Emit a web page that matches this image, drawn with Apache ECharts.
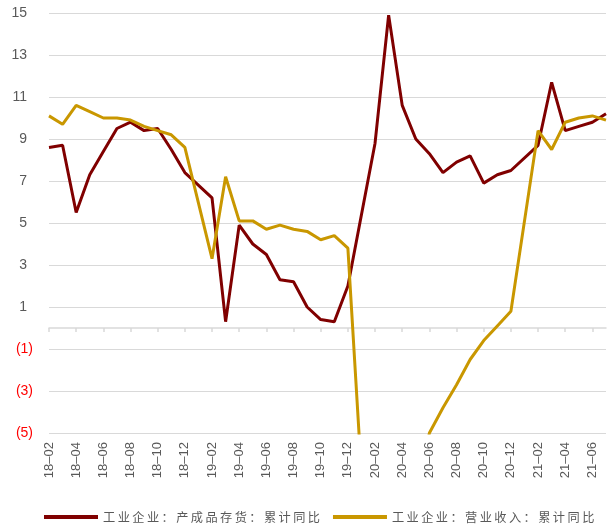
<!DOCTYPE html>
<html>
<head>
<meta charset="utf-8">
<script src="https://cdn.jsdelivr.net/npm/echarts@6/dist/echarts.min.js"></script>
<style>
  html, body { margin: 0; padding: 0; background: #fff; }
  #chart { width: 611px; height: 526px; }
</style>
</head>
<body>
<div id="chart"></div>
<script>
// 月份（1月数据缺失，用 null 表示）
const months = [
  "18–02", "18–03", "18–04", "18–05", "18–06", "18–07", "18–08", "18–09", "18–10", "18–11", "18–12",
  "19–01", "19–02", "19–03", "19–04", "19–05", "19–06", "19–07", "19–08", "19–09", "19–10", "19–11", "19–12",
  "20–01", "20–02", "20–03", "20–04", "20–05", "20–06", "20–07", "20–08", "20–09", "20–10", "20–11", "20–12",
  "21–01", "21–02", "21–03", "21–04", "21–05", "21–06", "21–07"
];
// 工业企业:产成品存货:累计同比
const inventory = [
  8.6, 8.7, 5.5, 7.3, 8.4, 9.5, 9.8, 9.4, 9.5, 8.5, 7.4,
  null, 6.2, 0.3, 4.9, 4.0, 3.5, 2.3, 2.2, 1.0, 0.4, 0.3, 2.0,
  null, 8.8, 14.9, 10.6, 9.0, 8.3, 7.4, 7.9, 8.2, 6.9, 7.3, 7.5,
  null, 8.7, 11.7, 9.4, 9.6, 9.8, 10.2
];
// 工业企业:营业收入:累计同比
const revenue = [
  10.1, 9.7, 10.6, 10.3, 10.0, 10.0, 9.9, 9.6, 9.4, 9.2, 8.6,
  null, 3.3, 7.2, 5.1, 5.1, 4.7, 4.9, 4.7, 4.6, 4.2, 4.4, 3.8,
  null, -17.7, -15.1, -12.3, -8.5, -5.0, -3.8, -2.7, -1.5, -0.6, 0.1, 0.8,
  null, 9.4, 8.5, 9.8, 10.0, 10.1, 9.9
];
const seriesNames = ["工业企业:产成品存货:累计同比", "工业企业:营业收入:累计同比"];

const grey = "#595959";
const gridGrey = "#d9d9d9";

let myChart = echarts.init(document.getElementById("chart"));
let option = {
  animation: false,
  grid: { left: 49, right: 5, top: 13, bottom: 93, containLabel: false },
  legend: {
    top: 506,
    left: 39,
    width: 590,
    icon: "rect",
    itemWidth: 54,
    itemHeight: 4,
    itemGap: 13,
    textStyle: { fontSize: 12.2, color: grey, fontFamily: "Noto Sans CJK SC" },
    formatter: function (name) {
      // 原图字间距较宽
      return name.replace(/:/g, "：").split("").join("\u2009");
    },
    data: seriesNames
  },
  xAxis: [
    {
      type: "category",
      position: "bottom",
      boundaryGap: false,
      data: months,
      axisLine: { show: false, onZero: false },
      axisTick: { show: false },
      axisLabel: {
        interval: 1,
        rotate: 90,
        margin: 9,
        fontSize: 13,
        color: grey,
        fontFamily: "Liberation Sans"
      },
      splitLine: { show: false }
    },
    {
      type: "category",
      position: "top",
      boundaryGap: false,
      data: months,
      axisLine: { show: true, onZero: true, lineStyle: { color: gridGrey, width: 1.5 } },
      axisTick: { show: true, inside: true, interval: 1, length: 4, lineStyle: { color: gridGrey, width: 1.5 } },
      axisLabel: { show: false },
      splitLine: { show: false }
    }
  ],
  yAxis: {
    type: "value",
    min: -5,
    max: 15,
    interval: 2,
    axisLine: { show: false },
    axisTick: { show: false },
    splitLine: { lineStyle: { color: gridGrey, width: 1.2 } },
    axisLabel: {
      margin: 16,
      fontSize: 14,
      fontFamily: "Liberation Sans",
      formatter: function (v) {
        if (v < 0) return "{neg|(" + (-v) + ")}";
        return "{pos|" + v + "}";
      },
      rich: {
        neg: { color: "#ff0000", fontSize: 14, fontFamily: "Liberation Sans" },
        pos: { color: grey, fontSize: 14, fontFamily: "Liberation Sans", padding: [0, 6, 0, 0] }
      }
    }
  },
  series: [
    {
      name: seriesNames[0],
      type: "line",
      xAxisIndex: 0,
      data: inventory,
      connectNulls: true,
      showSymbol: false,
      symbol: "none",
      lineStyle: { color: "#800000", width: 3 },
      itemStyle: { color: "#800000" }
    },
    {
      name: seriesNames[1],
      type: "line",
      xAxisIndex: 0,
      data: revenue,
      connectNulls: true,
      showSymbol: false,
      symbol: "none",
      lineStyle: { color: "#c99700", width: 3 },
      itemStyle: { color: "#c99700" }
    }
  ]
};
myChart.setOption(option);
</script>
</body>
</html>
